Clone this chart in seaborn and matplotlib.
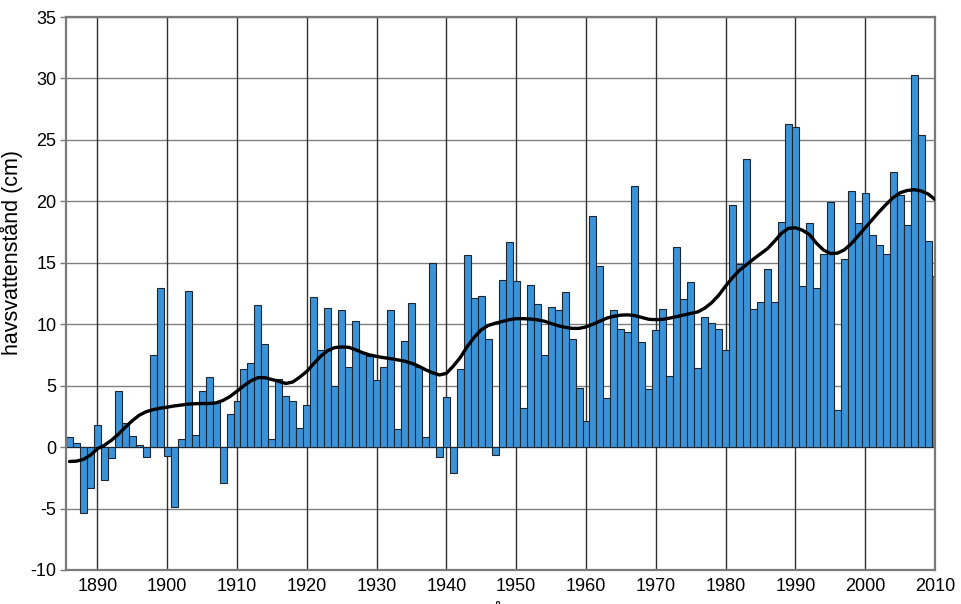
import matplotlib
matplotlib.use("Agg")
import matplotlib.pyplot as plt
import seaborn as sns
import pandas as pd

# ---- data ----
years = list(range(1886, 2011))
sea_level = [
    0.8, 0.3, -5.4, -3.3, 1.76, -2.67, -0.9, 4.53, 1.95, 0.92,      # 1886-1895
    0.19, -0.82, 7.5, 12.96, -0.76, -4.9, 0.65, 12.7, 0.98, 4.59,   # 1896-1905
    5.73, 3.65, -2.9, 2.71, 3.77, 6.36, 6.84, 11.54, 8.39, 0.65,    # 1906-1915
    5.51, 4.18, 3.75, 1.55, 3.42, 12.22, 7.93, 11.33, 5.0, 11.13,   # 1916-1925
    6.49, 10.29, 7.75, 7.39, 5.43, 6.49, 11.14, 1.47, 8.64, 11.73,  # 1926-1935
    6.49, 0.81, 15.0, -0.81, 4.04, -2.12, 6.38, 15.65, 12.11, 12.3, # 1936-1945
    8.77, -0.63, 13.61, 16.68, 13.5, 3.15, 13.2, 11.68, 7.47, 11.41,# 1946-1955
    11.14, 12.63, 8.83, 4.81, 2.09, 18.77, 14.75, 3.99, 11.19, 9.61,# 1956-1965
    9.34, 21.27, 8.56, 4.75, 9.53, 11.25, 5.8, 16.27, 12.09, 13.42, # 1966-1975
    6.41, 10.56, 10.1, 9.61, 7.93, 19.72, 14.91, 23.41, 11.21, 11.84,  # 1976-1985
    14.47, 11.84, 18.29, 26.28, 26.04, 13.15, 18.24, 12.95, 15.75, 19.95,  # 1986-1995
    2.98, 15.29, 20.86, 18.25, 20.7, 17.25, 16.46, 15.75, 22.38, 20.53,  # 1996-2005
    18.09, 30.24, 25.37, 16.76, 13.96,                                # 2006-2010
]

# smoothed trend curve, read per year
trend_values = [
    -1.17, -1.14, -1.0, -0.65, -0.14, 0.15, 0.55, 1.05, 1.62, 2.15,   # 1886-1895
    2.6, 2.88, 3.05, 3.17, 3.25, 3.35, 3.42, 3.5, 3.53, 3.55,         # 1896-1905
    3.55, 3.6, 3.8, 4.12, 4.55, 5.0, 5.4, 5.65, 5.65, 5.5,            # 1906-1915
    5.35, 5.18, 5.3, 5.7, 6.16, 6.8, 7.4, 7.85, 8.1, 8.15,            # 1916-1925
    8.12, 7.92, 7.68, 7.5, 7.38, 7.28, 7.2, 7.1, 7.0, 6.82,           # 1926-1935
    6.6, 6.3, 6.05, 5.87, 6.0, 6.6, 7.3, 8.2, 8.95, 9.55,             # 1936-1945
    9.9, 10.08, 10.22, 10.37, 10.45, 10.45, 10.42, 10.36, 10.25, 10.06,  # 1946-1955
    9.88, 9.75, 9.66, 9.66, 9.78, 10.0, 10.25, 10.5, 10.65, 10.74,    # 1956-1965
    10.76, 10.7, 10.55, 10.4, 10.37, 10.4, 10.5, 10.62, 10.75, 10.88, # 1966-1975
    11.0, 11.3, 11.75, 12.35, 13.1, 13.8, 14.4, 14.85, 15.3, 15.73,   # 1976-1985
    16.15, 16.75, 17.4, 17.8, 17.85, 17.65, 17.3, 16.6, 16.05, 15.75, # 1986-1995
    15.78, 16.05, 16.55, 17.2, 17.85, 18.5, 19.15, 19.75, 20.3, 20.7, # 1996-2005
    20.88, 20.95, 20.85, 20.6, 20.15,                                 # 2006-2010
]

y_ticks = [-10, -5, 0, 5, 10, 15, 20, 25, 30, 35]
x_ticks = [1890, 1900, 1910, 1920, 1930, 1940, 1950, 1960, 1970, 1980, 1990, 2000, 2010]

# ---- style ----
sns.set_theme(style="white")
plt.rcParams['font.family'] = ['Liberation Sans', 'DejaVu Sans']
plt.rcParams['axes.unicode_minus'] = False

fig = plt.figure(figsize=(9.62, 6.04), dpi=100)
ax = fig.add_axes([66 / 962, 1 - 570 / 604, (935 - 66) / 962, (570 - 17) / 604])

df = pd.DataFrame({"year": years, "level": sea_level})
trend = pd.DataFrame({"year": years, "level": trend_values})

sns.barplot(data=df, x="year", y="level", native_scale=True, width=1.0,
            color="#3a93d8", saturation=1, edgecolor="#1c2630", linewidth=0.8,
            ax=ax, zorder=2)
sns.lineplot(data=trend, x="year", y="level", color="black", linewidth=2.4,
             ax=ax, zorder=3)

ax.set_xlim(1885.5, 2010)
ax.set_ylim(-10, 35)
ax.set_yticks(y_ticks)
ax.set_xticks(x_ticks)
ax.set_xticklabels([str(t) for t in x_ticks])

# grid
for yt in y_ticks:
    ax.axhline(yt, color="#808080", linewidth=1.0, zorder=1)
for xt in x_ticks:
    ax.axvline(xt, color="#303030", linewidth=1.0, zorder=1)

for s in ax.spines.values():
    s.set_color("#7a7a7a")
    s.set_linewidth(1.6)
    s.set_visible(True)

ax.tick_params(axis="y", length=4, width=1, color="#7a7a7a", labelsize=13,
               pad=3, labelcolor="black", left=True)
ax.tick_params(axis="x", length=0, labelsize=13, pad=6, labelcolor="black")

ax.set_ylabel("havsvattenstånd (cm)", fontsize=15.5, color="black")
ax.yaxis.set_label_coords(-0.0495, 0.575)
ax.set_xlabel("År", fontsize=13, labelpad=6, color="black")

fig.savefig("out.png", dpi=100)
